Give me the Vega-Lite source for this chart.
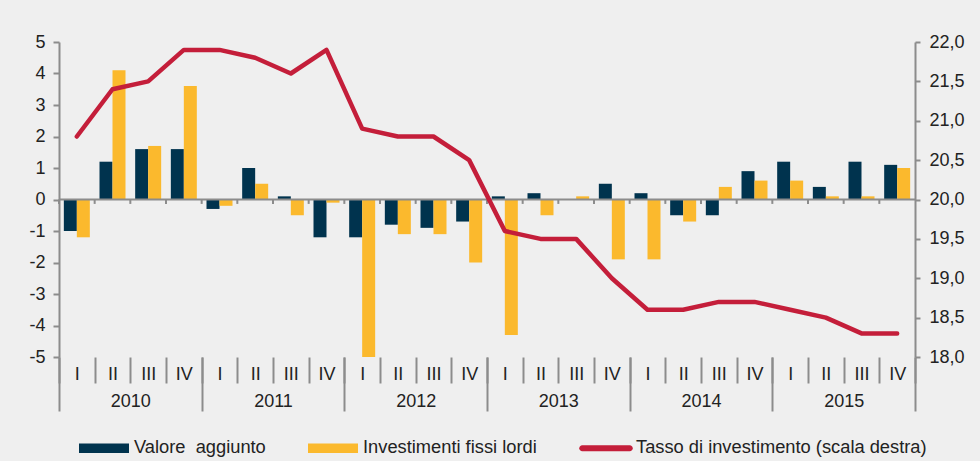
{
  "$schema": "https://vega.github.io/schema/vega-lite/v6.json",
  "width": 856,
  "height": 315,
  "autosize": {"type": "none"},
  "padding": {"left": 59, "top": 42, "right": 65, "bottom": 104},
  "background": "#efefef",
  "config": {
    "view": {"stroke": null},
    "font": "Liberation Sans",
    "axis": {
      "labelFont": "Liberation Sans",
      "labelFontSize": 18,
      "labelColor": "#222222",
      "labelOverlap": false,
      "domainColor": "#8c8c8c",
      "domainWidth": 2,
      "tickColor": "#8c8c8c",
      "tickWidth": 2,
      "grid": false,
      "title": null
    },
    "legend": {
      "labelFont": "Liberation Sans",
      "labelFontSize": 18.3,
      "labelColor": "#222222",
      "labelLimit": 0
    }
  },
  "datasets": {
    "bars": [
      {"q": "2010 I", "serie": "Valore  aggiunto", "v": -1.0},
      {"q": "2010 II", "serie": "Valore  aggiunto", "v": 1.2},
      {"q": "2010 III", "serie": "Valore  aggiunto", "v": 1.6},
      {"q": "2010 IV", "serie": "Valore  aggiunto", "v": 1.6},
      {"q": "2011 I", "serie": "Valore  aggiunto", "v": -0.3},
      {"q": "2011 II", "serie": "Valore  aggiunto", "v": 1.0},
      {"q": "2011 III", "serie": "Valore  aggiunto", "v": 0.1},
      {"q": "2011 IV", "serie": "Valore  aggiunto", "v": -1.2},
      {"q": "2012 I", "serie": "Valore  aggiunto", "v": -1.2},
      {"q": "2012 II", "serie": "Valore  aggiunto", "v": -0.8},
      {"q": "2012 III", "serie": "Valore  aggiunto", "v": -0.9},
      {"q": "2012 IV", "serie": "Valore  aggiunto", "v": -0.7},
      {"q": "2013 I", "serie": "Valore  aggiunto", "v": 0.1},
      {"q": "2013 II", "serie": "Valore  aggiunto", "v": 0.2},
      {"q": "2013 III", "serie": "Valore  aggiunto", "v": 0.0},
      {"q": "2013 IV", "serie": "Valore  aggiunto", "v": 0.5},
      {"q": "2014 I", "serie": "Valore  aggiunto", "v": 0.2},
      {"q": "2014 II", "serie": "Valore  aggiunto", "v": -0.5},
      {"q": "2014 III", "serie": "Valore  aggiunto", "v": -0.5},
      {"q": "2014 IV", "serie": "Valore  aggiunto", "v": 0.9},
      {"q": "2015 I", "serie": "Valore  aggiunto", "v": 1.2},
      {"q": "2015 II", "serie": "Valore  aggiunto", "v": 0.4},
      {"q": "2015 III", "serie": "Valore  aggiunto", "v": 1.2},
      {"q": "2015 IV", "serie": "Valore  aggiunto", "v": 1.1},
      {"q": "2010 I", "serie": "Investimenti fissi lordi", "v": -1.2},
      {"q": "2010 II", "serie": "Investimenti fissi lordi", "v": 4.1},
      {"q": "2010 III", "serie": "Investimenti fissi lordi", "v": 1.7},
      {"q": "2010 IV", "serie": "Investimenti fissi lordi", "v": 3.6},
      {"q": "2011 I", "serie": "Investimenti fissi lordi", "v": -0.2},
      {"q": "2011 II", "serie": "Investimenti fissi lordi", "v": 0.5},
      {"q": "2011 III", "serie": "Investimenti fissi lordi", "v": -0.5},
      {"q": "2011 IV", "serie": "Investimenti fissi lordi", "v": -0.1},
      {"q": "2012 I", "serie": "Investimenti fissi lordi", "v": -5.0},
      {"q": "2012 II", "serie": "Investimenti fissi lordi", "v": -1.1},
      {"q": "2012 III", "serie": "Investimenti fissi lordi", "v": -1.1},
      {"q": "2012 IV", "serie": "Investimenti fissi lordi", "v": -2.0},
      {"q": "2013 I", "serie": "Investimenti fissi lordi", "v": -4.3},
      {"q": "2013 II", "serie": "Investimenti fissi lordi", "v": -0.5},
      {"q": "2013 III", "serie": "Investimenti fissi lordi", "v": 0.1},
      {"q": "2013 IV", "serie": "Investimenti fissi lordi", "v": -1.9},
      {"q": "2014 I", "serie": "Investimenti fissi lordi", "v": -1.9},
      {"q": "2014 II", "serie": "Investimenti fissi lordi", "v": -0.7},
      {"q": "2014 III", "serie": "Investimenti fissi lordi", "v": 0.4},
      {"q": "2014 IV", "serie": "Investimenti fissi lordi", "v": 0.6},
      {"q": "2015 I", "serie": "Investimenti fissi lordi", "v": 0.6},
      {"q": "2015 II", "serie": "Investimenti fissi lordi", "v": 0.1},
      {"q": "2015 III", "serie": "Investimenti fissi lordi", "v": 0.1},
      {"q": "2015 IV", "serie": "Investimenti fissi lordi", "v": 1.0}
    ],
    "quarters": [
      {"q": "2010 I", "year": "2010", "tasso": 20.8},
      {"q": "2010 II", "year": "2010", "tasso": 21.4},
      {"q": "2010 III", "year": "2010", "tasso": 21.5},
      {"q": "2010 IV", "year": "2010", "tasso": 21.9},
      {"q": "2011 I", "year": "2011", "tasso": 21.9},
      {"q": "2011 II", "year": "2011", "tasso": 21.8},
      {"q": "2011 III", "year": "2011", "tasso": 21.6},
      {"q": "2011 IV", "year": "2011", "tasso": 21.9},
      {"q": "2012 I", "year": "2012", "tasso": 20.9},
      {"q": "2012 II", "year": "2012", "tasso": 20.8},
      {"q": "2012 III", "year": "2012", "tasso": 20.8},
      {"q": "2012 IV", "year": "2012", "tasso": 20.5},
      {"q": "2013 I", "year": "2013", "tasso": 19.6},
      {"q": "2013 II", "year": "2013", "tasso": 19.5},
      {"q": "2013 III", "year": "2013", "tasso": 19.5},
      {"q": "2013 IV", "year": "2013", "tasso": 19.0},
      {"q": "2014 I", "year": "2014", "tasso": 18.6},
      {"q": "2014 II", "year": "2014", "tasso": 18.6},
      {"q": "2014 III", "year": "2014", "tasso": 18.7},
      {"q": "2014 IV", "year": "2014", "tasso": 18.7},
      {"q": "2015 I", "year": "2015", "tasso": 18.6},
      {"q": "2015 II", "year": "2015", "tasso": 18.5},
      {"q": "2015 III", "year": "2015", "tasso": 18.3},
      {"q": "2015 IV", "year": "2015", "tasso": 18.3}
    ]
  },
  "layer": [
    {
      "layer": [
        {
          "layer": [
            {
              "data": {"name": "bars"},
              "mark": {"type": "bar"},
              "encoding": {
                "x": {
                  "field": "q",
                  "type": "nominal",
                  "sort": null,
                  "scale": {"padding": 0},
                  "axis": {
                    "orient": "bottom",
                    "domain": false,
                    "tickBand": "extent",
                    "tickSize": 26,
                    "labelPadding": -18,
                    "labelAngle": 0,
                    "labelExpr": "split(datum.label, ' ')[1]"
                  }
                },
                "xOffset": {
                  "field": "serie",
                  "type": "nominal",
                  "sort": ["Valore  aggiunto", "Investimenti fissi lordi"],
                  "scale": {"paddingInner": 0, "paddingOuter": 0.372}
                },
                "y": {
                  "field": "v",
                  "type": "quantitative",
                  "scale": {"domain": [-5, 5], "nice": false, "zero": false},
                  "axis": {
                    "orient": "left",
                    "values": [-5, -4, -3, -2, -1, 0, 1, 2, 3, 4, 5],
                    "tickSize": 6,
                    "labelPadding": 8,
                    "labelOverlap": false,
                    "labelExpr": "datum.value < 0 ? '-' + abs(datum.value) : '' + datum.value"
                  }
                },
                "color": {
                  "field": "serie",
                  "type": "nominal",
                  "scale": {
                    "domain": ["Valore  aggiunto", "Investimenti fissi lordi", "Tasso di investimento (scala destra)"],
                    "range": ["#00334e", "#fbb92d", "#c41e3a"]
                  },
                  "legend": {
                    "title": null,
                    "orient": "none",
                    "direction": "horizontal",
                    "legendX": 20,
                    "legendY": 381,
                    "symbolType": "M-1,-0.19H1V0.19H-1Z",
                    "symbolSize": 2500,
                    "symbolStrokeWidth": 0,
                    "labelOffset": 5,
                    "columnPadding": 42,
                    "labelExpr": "replace(datum.label, '  ', '\u00a0 ')",
                    "encode": {
                      "symbols": {
                        "update": {
                          "shape": {"signal": "datum.value === 'Tasso di investimento (scala destra)' ? 'M-0.95,-0.12H0.95A0.12,0.12 0 0 1 0.95,0.12H-0.95A0.12,0.12 0 0 1 -0.95,-0.12Z' : 'M-1,-0.19H1V0.19H-1Z'"}
                        }
                      }
                    }
                  }
                }
              }
            },
            {
              "data": {"values": [{}]},
              "mark": {"type": "rule", "color": "#8c8c8c", "strokeWidth": 2},
              "encoding": {
                "y": {
                  "datum": 0,
                  "type": "quantitative",
                  "axis": {
                    "orient": "left",
                    "values": [-5, -4, -3, -2, -1, 0, 1, 2, 3, 4, 5],
                    "tickSize": 6,
                    "labelPadding": 8,
                    "labelOverlap": false,
                    "labelExpr": "datum.value < 0 ? '-' + abs(datum.value) : '' + datum.value"
                  }
                }
              }
            },
            {
              "data": {"name": "quarters"},
              "mark": {"type": "rule", "color": "#8c8c8c", "strokeWidth": 2},
              "encoding": {
                "x": {"field": "q", "type": "nominal", "sort": null, "bandPosition": 0},
                "y": {
                  "datum": 0,
                  "type": "quantitative",
                  "axis": {
                    "orient": "left",
                    "values": [-5, -4, -3, -2, -1, 0, 1, 2, 3, 4, 5],
                    "tickSize": 6,
                    "labelPadding": 8,
                    "labelOverlap": false,
                    "labelExpr": "datum.value < 0 ? '-' + abs(datum.value) : '' + datum.value"
                  }
                },
                "y2": {"datum": -0.14}
              }
            }
          ]
        },
        {
          "data": {"name": "quarters"},
          "mark": {"type": "line", "color": "#c41e3a", "strokeWidth": 4.5, "strokeCap": "round", "strokeJoin": "round"},
          "encoding": {
            "x": {"field": "q", "type": "nominal", "sort": null},
            "y": {
              "field": "tasso",
              "type": "quantitative",
              "scale": {"domain": [18, 22], "nice": false, "zero": false},
              "axis": {
                "orient": "right",
                "values": [18, 18.5, 19, 19.5, 20, 20.5, 21, 21.5, 22],
                "tickSize": 5,
                "labelPadding": 9,
                "labelOverlap": false,
                "labelExpr": "replace(format(datum.value, '.1f'), '.', ',')"
              }
            },
            "color": {"datum": "Tasso di investimento (scala destra)"}
          }
        }
      ],
      "resolve": {"scale": {"y": "independent"}}
    },
    {
      "data": {"name": "quarters"},
      "mark": {"type": "point", "opacity": 0},
      "encoding": {
        "x": {
          "field": "year",
          "type": "nominal",
          "scale": {"padding": 0},
          "axis": {
            "orient": "bottom",
            "domain": false,
            "tickBand": "extent",
            "tickSize": 54,
            "labelPadding": -19,
            "labelAngle": 0
          }
        }
      }
    }
  ],
  "resolve": {"scale": {"x": "independent"}}
}
